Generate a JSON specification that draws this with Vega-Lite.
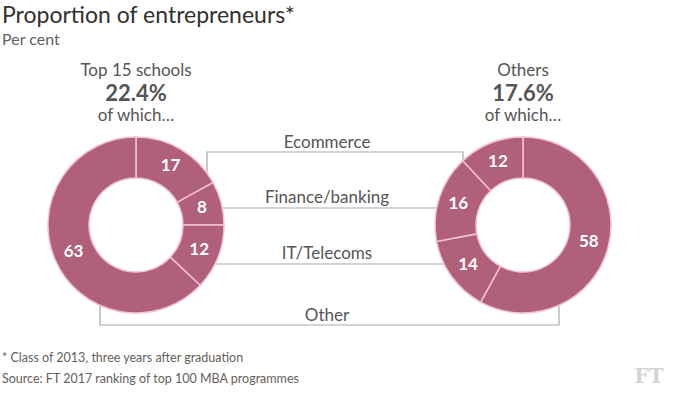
{
  "$schema": "https://vega.github.io/schema/vega-lite/v6.json",
  "width": 677,
  "height": 395,
  "autosize": {"type": "fit", "contains": "padding"},
  "padding": 0,
  "background": "#ffffff",
  "config": {"view": {"stroke": null}, "font": "Lato"},
  "datasets": {
    "donut": [
      {"group": "Top 15 schools", "category": "Ecommerce", "value": 17, "order": 1},
      {"group": "Top 15 schools", "category": "Finance/banking", "value": 8, "order": 2},
      {"group": "Top 15 schools", "category": "IT/Telecoms", "value": 12, "order": 3},
      {"group": "Top 15 schools", "category": "Other", "value": 63, "order": 4},
      {"group": "Others", "category": "Other", "value": 58, "order": 1},
      {"group": "Others", "category": "IT/Telecoms", "value": 14, "order": 2},
      {"group": "Others", "category": "Finance/banking", "value": 16, "order": 3},
      {"group": "Others", "category": "Ecommerce", "value": 12, "order": 4}
    ],
    "links": [
      {"category": "Ecommerce", "step": 1, "x": 207, "y": 182},
      {"category": "Ecommerce", "step": 2, "x": 207, "y": 152},
      {"category": "Ecommerce", "step": 3, "x": 463, "y": 152},
      {"category": "Ecommerce", "step": 4, "x": 463, "y": 178},
      {"category": "Finance/banking", "step": 1, "x": 200, "y": 208},
      {"category": "Finance/banking", "step": 2, "x": 450, "y": 208},
      {"category": "IT/Telecoms", "step": 1, "x": 200, "y": 264},
      {"category": "IT/Telecoms", "step": 2, "x": 450, "y": 264},
      {"category": "Other", "step": 1, "x": 100, "y": 292},
      {"category": "Other", "step": 2, "x": 100, "y": 325},
      {"category": "Other", "step": 3, "x": 559, "y": 325},
      {"category": "Other", "step": 4, "x": 559, "y": 292}
    ],
    "notes": [
      {"role": "title", "text": "Proportion of entrepreneurs*", "x": 2, "y": 23},
      {"role": "subtitle", "text": "Per cent", "x": 2, "y": 45},
      {"role": "head", "text": "Top 15 schools", "x": 136, "y": 76},
      {"role": "big", "text": "22.4%", "x": 136, "y": 101},
      {"role": "head", "text": "of which…", "x": 136, "y": 121},
      {"role": "head", "text": "Others", "x": 523, "y": 76},
      {"role": "big", "text": "17.6%", "x": 523, "y": 101},
      {"role": "head", "text": "of which…", "x": 523, "y": 121},
      {"role": "link", "text": "Ecommerce", "x": 327, "y": 148},
      {"role": "link", "text": "Finance/banking", "x": 327, "y": 203},
      {"role": "link", "text": "IT/Telecoms", "x": 327, "y": 259},
      {"role": "link", "text": "Other", "x": 327, "y": 321},
      {"role": "foot", "text": "* Class of 2013, three years after graduation", "x": 2, "y": 362},
      {"role": "foot", "text": "Source: FT 2017 ranking of top 100 MBA programmes", "x": 2, "y": 383},
      {"role": "logo", "text": "FT", "x": 649, "y": 383}
    ]
  },
  "layer": [
    {
      "data": {"name": "links"},
      "mark": {"type": "line", "color": "#a8a8a8", "strokeWidth": 1.2},
      "encoding": {
        "x": {"field": "x", "type": "quantitative", "scale": {"domain": [0, 677], "nice": false, "zero": false}, "axis": null},
        "y": {"field": "y", "type": "quantitative", "scale": {"domain": [0, 395], "nice": false, "zero": false, "reverse": true}, "axis": null},
        "detail": {"field": "category"},
        "order": {"field": "step", "type": "quantitative"}
      }
    },
    {
      "data": {"name": "donut"},
      "transform": [
        {"stack": "value", "groupby": ["group"], "sort": [{"field": "order", "order": "ascending"}], "as": ["v0", "v1"]},
        {"calculate": "(datum.v0 + datum.v1) / 2", "as": "mid"}
      ],
      "encoding": {
        "x": {"field": "group", "type": "nominal", "scale": {"type": "point", "domain": ["Top 15 schools", "Others"], "range": [136, 523], "padding": 0}, "axis": null},
        "y": {"datum": 225, "type": "quantitative", "scale": {"domain": [0, 395], "nice": false, "zero": false, "reverse": true}, "axis": null}
      },
      "layer": [
        {
          "mark": {"type": "arc", "outerRadius": 88, "innerRadius": 47, "fill": "#b0607a", "stroke": "#f3c3d0", "strokeWidth": 1.5},
          "encoding": {
            "theta": {"field": "v0", "type": "quantitative", "stack": null, "scale": {"domain": [0, 100], "range": [0, 6.283185]}},
            "theta2": {"field": "v1"}
          }
        },
        {
          "mark": {"type": "text", "radius": 68, "fill": "#ffffff", "fontWeight": "bold", "fontSize": 17, "align": "center", "baseline": "middle"},
          "encoding": {
            "theta": {"field": "mid", "type": "quantitative", "stack": null, "scale": {"domain": [0, 100], "range": [0, 6.283185]}},
            "text": {"field": "value", "type": "quantitative"}
          }
        }
      ]
    },
    {
      "data": {"name": "notes"},
      "encoding": {
        "x": {"field": "x", "type": "quantitative", "scale": {"domain": [0, 677], "nice": false, "zero": false}, "axis": null},
        "y": {"field": "y", "type": "quantitative", "scale": {"domain": [0, 395], "nice": false, "zero": false, "reverse": true}, "axis": null},
        "text": {"field": "text", "type": "nominal"}
      },
      "layer": [
        {"transform": [{"filter": "datum.role == 'title'"}], "mark": {"type": "text", "align": "left", "baseline": "alphabetic", "fontSize": 23, "fill": "#33302e"}},
        {"transform": [{"filter": "datum.role == 'subtitle'"}], "mark": {"type": "text", "align": "left", "baseline": "alphabetic", "fontSize": 16, "fill": "#66605c"}},
        {"transform": [{"filter": "datum.role == 'head'"}], "mark": {"type": "text", "align": "center", "baseline": "alphabetic", "fontSize": 17, "fill": "#555555"}},
        {"transform": [{"filter": "datum.role == 'big'"}], "mark": {"type": "text", "align": "center", "baseline": "alphabetic", "fontSize": 22, "fontWeight": "bold", "fill": "#555555"}},
        {"transform": [{"filter": "datum.role == 'link'"}], "mark": {"type": "text", "align": "center", "baseline": "alphabetic", "fontSize": 17, "fill": "#555555"}},
        {"transform": [{"filter": "datum.role == 'foot'"}], "mark": {"type": "text", "align": "left", "baseline": "alphabetic", "fontSize": 12.5, "fill": "#66605c"}},
        {"transform": [{"filter": "datum.role == 'logo'"}], "mark": {"type": "text", "align": "center", "baseline": "alphabetic", "fontSize": 20, "font": "DejaVu Serif", "fontWeight": "bold", "fill": "#d4d4d4"}}
      ]
    }
  ],
  "resolve": {"scale": {"x": "independent"}}
}
